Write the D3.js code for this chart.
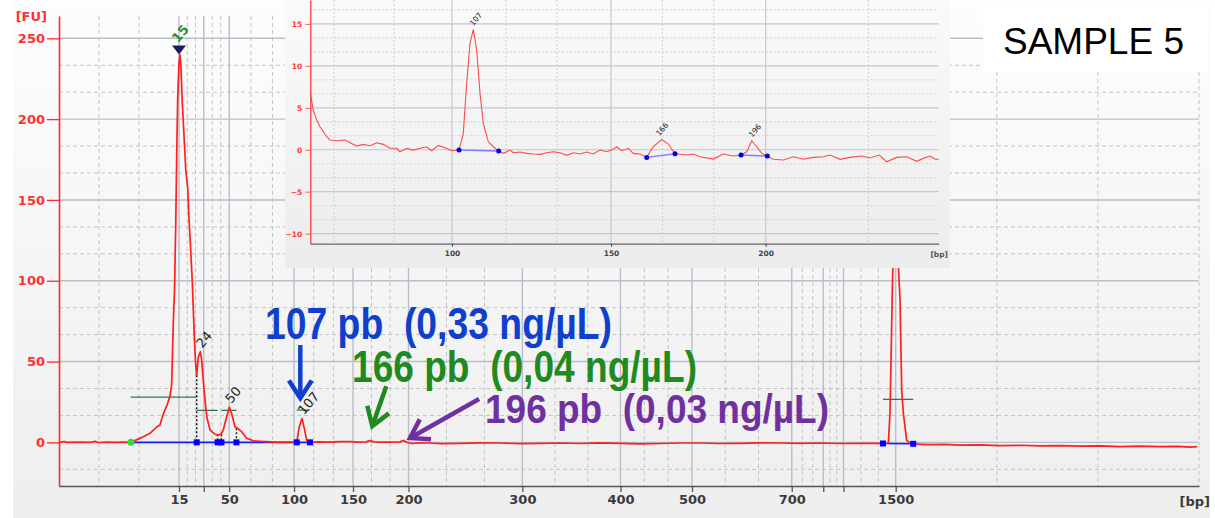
<!DOCTYPE html>
<html>
<head>
<meta charset="utf-8">
<script src="https://cdn.jsdelivr.net/npm/d3@7"></script>
<style>
  body { margin: 0; background: #fff; }
  svg { display: block; }
</style>
</head>
<body>
<div id="chart"></div>
<script>
// ---------------------------------------------------------------- data
// ladder peaks (size in bp) and their migration time (s)
var ladderSizes  = [15, 25, 50, 100, 150, 200, 300, 400, 500, 700, 850, 1000, 1500];
var ladderTimes  = [48.0, 49.65, 51.35, 55.67, 59.6, 63.3, 70.89, 77.43, 82.2, 88.85, 90.95, 92.3, 95.78];
var labeledSizes = [15, 50, 100, 150, 200, 300, 400, 500, 700, 1500];
var fuTicks      = [0, 50, 100, 150, 200, 250];

// main electropherogram [time s, FU]
var mainTrace = [
  [40.00, 0], [40.33, 0.5], [40.53, 0], [41.40, 0.2], [42.10, 0], [42.40, 0.6], [42.60, -0.1], [43.20, 0.1],
  [43.73, 0], [44.30, 0.2], [44.80, 0],
  [45.20, 1.7], [45.62, 3.5], [46.07, 5.6], [46.51, 9.5], [46.73, 10.7], [46.95, 17.5], [47.20, 23], [47.40, 28.6],
  [47.51, 35.5], [47.62, 73.8], [47.70, 94], [47.78, 132.6], [47.85, 179], [47.91, 211.8], [48.00, 235.3], [48.07, 239.7],
  [48.13, 232.4], [48.22, 210], [48.35, 187], [48.45, 168.5], [48.58, 157.4], [48.67, 137.6], [48.78, 119], [48.89, 98.6],
  [49.02, 65.2], [49.10, 49.7], [49.18, 41.6],
  [49.29, 52.8], [49.42, 56.1], [49.51, 51], [49.67, 32.4], [49.85, 15.8], [50.07, 7.6], [50.40, 5], [50.60, 4.5],
  [50.80, 5.1], [50.95, 7.6], [51.18, 15.8], [51.35, 21.8], [51.51, 17.9], [51.73, 9.7], [51.91, 8.7], [52.18, 6.6],
  [52.51, 2.5], [52.95, 1.0], [53.40, 0.7], [53.85, 0.4], [54.40, 0.1], [54.93, 0], [55.40, 0.2], [55.85, 0],
  [56.02, 9.7], [56.20, 14.7], [56.33, 9.7], [56.51, 1.4], [56.73, 0],
  [57.30, 0.3], [58.07, 0.2], [58.70, 0.4], [59.40, 0.5], [60.00, 0.2], [60.47, 0.3], [60.73, 1.1], [61.00, 0.3],
  [61.50, 0.1], [62.07, 0.2], [62.73, 0.3], [62.97, 1.2], [63.20, 0], [63.53, -0.7], [64.10, -0.3], [64.73, -0.4],
  [65.50, -0.8], [66.73, -0.6], [68.00, -0.3], [69.40, -0.4], [70.70, -0.8], [72.07, -0.6], [73.40, -0.4], [74.73, -0.7],
  [76.00, -0.3], [77.40, -0.6], [78.70, -0.9], [80.07, -0.7], [81.40, -0.4], [82.73, -0.4], [84.00, -0.7], [85.40, -0.6],
  [86.70, -0.3], [88.07, -0.4], [89.40, -0.6], [90.73, -0.4], [92.10, -0.7], [93.40, -0.6], [94.93, -0.6], [95.29, -0.4],
  [95.40, 18.1], [95.47, 51], [95.55, 92.4], [95.63, 125], [95.78, 150], [95.90, 125], [95.97, 106.6], [96.07, 88],
  [96.18, 32.4], [96.29, 18.1], [96.51, 1.4], [96.73, -0.6], [96.95, -0.9],
  [97.50, -1.2], [98.07, -1.4], [99.00, -1.3], [100.07, -1.7], [101.40, -1.6], [102.73, -2.0], [104.00, -1.8],
  [105.40, -2.2], [106.70, -2.0], [108.07, -2.3], [109.40, -2.2], [110.73, -2.6], [112.00, -2.3], [113.40, -2.6],
  [114.60, -2.5], [115.40, -2.9], [115.87, -2.6]
];

// peak calls in main plot
var peakSizes  = [15, 24, 50, 107];
var peakFU     = [240, 56.1, 21.8, 14.7];
var peakTimes  = [48.0, 49.42, 51.35, 56.2];
var markerTime = 44.8;                       // start of integration (green dot)
var boundaries = [[49.18, 0], [50.57, 0], [50.83, 0], [51.83, 0], [55.85, 0], [56.73, 0], [94.93, -0.7], [96.95, -0.9]];
var baselines  = [[44.8, 0, 56.73, 0], [94.93, -0.7, 96.95, -0.9]];
var widthBars  = [[44.78, 49.18, 28], [49.18, 50.57, 19.8], [50.83, 51.83, 19.8], [55.85, 56.73, 20], [94.93, 96.95, 26.6]];
var dropLines  = [[49.18, 41.6], [50.57, 5], [50.83, 5], [51.83, 8.7]];

// zoomed inset [bp, FU]
var insetTrace = [
  [55.44, 6.72], [56.38, 4.73], [57.45, 3.54], [58.49, 2.74], [60.6, 1.55], [61.64, 1.16], [63.74, 1.07], [66.35, 1.16],
  [67.92, 0.83], [70.03, 0.44], [72.11, 0.64], [74.21, 0.48], [76.32, 0.83], [78.4, 0.64], [80.5, 0.17], [82.61, 0.17],
  [83.65, -0.24], [85.75, 0.17], [87.83, -0.04], [89.94, 0.17], [92.04, 0.36], [93.62, -0.12], [95.69, 0.52], [97.8, 0.24],
  [99.91, -0.12], [102.2, -0.04],
  [103.55, 1.96], [104.62, 7.92], [105.66, 12.69], [106.7, 14.36], [107.77, 11.89], [108.81, 6.72], [109.84, 3.15],
  [111.42, 0.95], [112.99, 0.36], [114.69, -0.16],
  [116.13, -0.43], [118.24, -0.04], [119.28, -0.36], [121.38, -0.27], [123.49, -0.43], [125.57, -0.51], [127.67, -0.55],
  [129.78, -0.36], [131.86, -0.24], [133.96, -0.36], [136.07, -0.67], [138.14, -0.36], [140.25, -0.51], [142.36, -0.27],
  [144.43, -0.51], [146.54, -0.04], [148.65, -0.24], [150.74, 0.05], [151.84, 0.36], [153.46, -0.12], [155.59, 0.17],
  [157.21, -0.43], [159.37, -0.51], [161.54, -0.91],
  [163.67, 0.36], [166.39, 1.24], [168.52, 0.68], [170.69, -0.48],
  [174.47, -0.63], [176.6, -0.51], [178.77, -0.83], [183.07, -1.11], [186.3, -0.51], [189.53, -0.75], [192.02, -0.63],
  [193.86, -0.24], [195.48, 1.07], [197.09, 0.36], [198.71, -0.43], [200.52, -0.75],
  [202.46, -1.14], [205.69, -1.23], [208.93, -0.83], [212.16, -1.14], [215.39, -0.91], [218.62, -0.83], [220.78, -0.63],
  [224.02, -1.14], [227.25, -0.91], [231.03, -0.75], [233.71, -0.99], [236.72, -0.63], [239.11, -1.43], [242.35, -0.91],
  [245.58, -0.83], [248.81, -1.38], [250.95, -1.03], [253.11, -0.75], [254.73, -1.14], [255.92, -1.14]
];
var insetTicks     = [100, 150, 200];
var insetMinor     = [62.9, 81.8, 117, 133, 166.6, 183.2, 233.2];
var insetFuTicks   = [-10, -5, 0, 5, 10, 15];
var insetPeakSizes = [107, 166, 196];
var insetPeakFU    = [14.36, 1.24, 1.07];
var insetBase      = [[102.2, -0.04, 114.69, -0.16], [161.54, -0.91, 170.69, -0.48], [192.02, -0.63, 200.52, -0.75]];

// annotations
var noteTexts  = ["107 pb  (0,33 ng/\u00b5L)", "166 pb  (0,04 ng/\u00b5L)", "196 pb  (0,03 ng/\u00b5L)"];
var noteSizes  = [107, 166, 196];
var noteColors = ["#0f3fcc", "#1f8a1f", "#7030a0"];

// ---------------------------------------------------------------- setup
var W = 1215, H = 518;

var svg = d3.select("#chart").append("svg")
    .attr("width", W)
    .attr("height", H);

var defs = svg.append("defs");

function gradient(id, top, bottom) {
    var gr = defs.append("linearGradient").attr("id", id)
        .attr("x1", 0).attr("y1", 0).attr("x2", 0).attr("y2", 1);
    gr.append("stop").attr("offset", "0%").attr("stop-color", top);
    gr.append("stop").attr("offset", "100%").attr("stop-color", bottom);
}
gradient("bgGrad", "#fdfdfd", "#eeeeee");
gradient("insetGrad", "#fafafa", "#ececec");

// scales
var x = d3.scaleLinear().domain([40, 116]).range([59, 1199]);
var y = d3.scaleLinear().domain([-27, 263.8]).range([486, 16]);
var sizeToTime = d3.scaleLinear().domain(ladderSizes).range(ladderTimes);

var ix = d3.scaleLinear().domain([55.44, 100, 150, 200, 255.92]).range([310.3, 452, 611, 765.7, 938.7]);
var iy = d3.scaleLinear().domain([-11.2, 17.85]).range([243.7, 0]);

svg.append("rect").attr("width", W).attr("height", H).attr("fill", "#fff");
svg.append("rect").attr("x", 13).attr("y", 0).attr("width", 1197).attr("height", H).attr("fill", "url(#bgGrad)");

// ---------------------------------------------------------------- main grid
var grid = svg.append("g");
var yTop = y.domain()[1], yBot = y.domain()[0];

// dashed vertical lines split every ladder interval in thirds
var bounds = [x.domain()[0]].concat(ladderTimes, [x.domain()[1]]);
var minorT = [];
for (var i = 0; i < bounds.length - 1; i++) {
    var a = bounds[i], b = bounds[i + 1];
    minorT.push(a + (b - a) / 3, a + 2 * (b - a) / 3);
}
minorT.push(x.domain()[1]);

var minorFU = d3.range(-1, 16).map(k => k * 50 / 3).filter(v => Math.abs(v % 50) > 1e-6 && v > yBot && v < yTop);

grid.selectAll(".vm").data(minorT).enter().append("line")
    .attr("x1", d => x(d)).attr("x2", d => x(d))
    .attr("y1", y(yTop)).attr("y2", y(yBot))
    .attr("stroke", "#c4c4c4").attr("stroke-dasharray", "4,3");

grid.selectAll(".hm").data(minorFU).enter().append("line")
    .attr("x1", x.range()[0]).attr("x2", x.range()[1])
    .attr("y1", d => y(d)).attr("y2", d => y(d))
    .attr("stroke", "#c4c4c4").attr("stroke-dasharray", "4,3");

grid.selectAll(".vM").data(ladderTimes).enter().append("line")
    .attr("x1", d => x(d)).attr("x2", d => x(d))
    .attr("y1", y(yTop)).attr("y2", y(yBot))
    .attr("stroke", "#b7bfcd").attr("stroke-width", 1.4);

grid.selectAll(".hM").data(fuTicks).enter().append("line")
    .attr("x1", x.range()[0]).attr("x2", x.range()[1])
    .attr("y1", d => y(d)).attr("y2", d => y(d))
    .attr("stroke", "#b7bfcd").attr("stroke-width", 1.4);

// ---------------------------------------------------------------- peak furniture
var furn = svg.append("g");

furn.selectAll(".wb").data(widthBars).enter().append("line")
    .attr("x1", d => x(d[0])).attr("x2", d => x(d[1]))
    .attr("y1", d => y(d[2])).attr("y2", d => y(d[2]))
    .attr("stroke", "#2b7a50").attr("stroke-width", 1.3);

furn.selectAll(".bl").data(baselines).enter().append("line")
    .attr("x1", d => x(d[0])).attr("y1", d => y(d[1]))
    .attr("x2", d => x(d[2])).attr("y2", d => y(d[3]))
    .attr("stroke", "#1a1aff").attr("stroke-width", 1.6);

furn.selectAll(".dl").data(dropLines).enter().append("line")
    .attr("x1", d => x(d[0])).attr("x2", d => x(d[0]))
    .attr("y1", d => y(d[1])).attr("y2", y(0))
    .attr("stroke", "#222").attr("stroke-width", 1.5).attr("stroke-dasharray", "2,2");

// trace
var line = d3.line().x(d => x(d[0])).y(d => y(d[1]));
svg.append("path")
    .datum(mainTrace)
    .attr("d", line)
    .attr("fill", "none")
    .attr("stroke", "#ff1f1f")
    .attr("stroke-width", 1.7)
    .attr("stroke-linejoin", "round");

svg.selectAll(".bd").data(boundaries).enter().append("rect")
    .attr("x", d => x(d[0]) - 3).attr("y", d => y(d[1]) - 3)
    .attr("width", 6).attr("height", 6)
    .attr("fill", "#0000ff");

svg.append("circle")
    .attr("cx", x(markerTime)).attr("cy", y(0)).attr("r", 3.5)
    .attr("fill", "#33dd33");

// lower marker triangle
var mx = x(peakTimes[0]), my = y(peakFU[0]);
svg.append("path")
    .attr("d", "M" + (mx - 7) + "," + (my - 9) + "L" + (mx + 7) + "," + (my - 9) + "L" + mx + "," + my + "Z")
    .attr("fill", "#1c1c5e");

// peak labels
svg.selectAll(".pl").data(peakSizes).enter().append("text")
    .attr("transform", (d, i) => i === 0
        ? "translate(" + (mx - 1) + "," + (my - 11) + ") rotate(-50)"
        : "translate(" + (x(peakTimes[i]) + 2) + "," + (y(peakFU[i]) - 3) + ") rotate(-50)")
    .text(d => d)
    .style("font-family", "DejaVu Sans")
    .style("font-size", "13px")
    .style("font-weight", (d, i) => i === 0 ? "bold" : "normal")
    .attr("fill", (d, i) => i === 0 ? "#2f8f2f" : "#222");

// ---------------------------------------------------------------- main axes
var yAxis = svg.append("g")
    .attr("transform", "translate(" + x.range()[0] + ",0)")
    .call(d3.axisLeft(y).tickValues(fuTicks).tickSize(12).tickSizeOuter(0).tickPadding(2));
yAxis.select(".domain").attr("stroke", "#ff2a2a").attr("stroke-width", 1.6);
yAxis.selectAll(".tick line").attr("stroke", "#ff2a2a").attr("stroke-width", 1.3);
yAxis.selectAll(".tick text")
    .attr("fill", "#ff3030")
    .style("font-family", "DejaVu Sans").style("font-size", "13px").style("font-weight", "bold");

var xAxis = svg.append("g")
    .attr("transform", "translate(0," + y(yBot) + ")")
    .call(d3.axisBottom(x).tickValues(ladderTimes).tickSize(6).tickSizeOuter(0).tickPadding(3)
        .tickFormat((d, i) => labeledSizes.indexOf(ladderSizes[i]) >= 0 ? ladderSizes[i] : ""));
xAxis.select(".domain").attr("stroke", "#555").attr("stroke-width", 1.5);
xAxis.selectAll(".tick line").attr("stroke", "#555").attr("stroke-width", 1.3);
xAxis.selectAll(".tick text")
    .attr("fill", "#3a3a3a")
    .style("font-family", "DejaVu Sans").style("font-size", "13px").style("font-weight", "bold");

svg.append("text")
    .attr("x", 47).attr("y", 21)
    .attr("text-anchor", "end")
    .text("[FU]")
    .attr("fill", "#ff3030")
    .style("font-family", "DejaVu Sans").style("font-size", "13px").style("font-weight", "bold");

svg.append("text")
    .attr("x", 1210).attr("y", 506)
    .attr("text-anchor", "end")
    .text("[bp]")
    .attr("fill", "#3a3a3a")
    .style("font-family", "DejaVu Sans").style("font-size", "13px").style("font-weight", "bold");

// ---------------------------------------------------------------- inset
var inset = svg.append("g");
inset.append("rect")
    .attr("x", 285).attr("y", 0).attr("width", 665).attr("height", 268)
    .attr("fill", "url(#insetGrad)");

var ixL = ix.range()[0], ixR = ix.range()[ix.range().length - 1];
var iyTop = iy.domain()[1], iyBot = iy.domain()[0];
var insetMinorFU = d3.range(-6, 11).map(k => k * 5 / 3).filter(v => Math.abs(v % 5) > 1e-6 && v > iyBot && v < iyTop);

inset.selectAll(".ivm").data(insetMinor).enter().append("line")
    .attr("x1", d => ix(d)).attr("x2", d => ix(d))
    .attr("y1", iy(iyTop)).attr("y2", iy(iyBot))
    .attr("stroke", "#cfcfcf").attr("stroke-dasharray", "2,2");
inset.selectAll(".ihm").data(insetMinorFU).enter().append("line")
    .attr("x1", ixL).attr("x2", ixR)
    .attr("y1", d => iy(d)).attr("y2", d => iy(d))
    .attr("stroke", "#cfcfcf").attr("stroke-dasharray", "2,2");
inset.selectAll(".ivM").data(insetTicks).enter().append("line")
    .attr("x1", d => ix(d)).attr("x2", d => ix(d))
    .attr("y1", iy(iyTop)).attr("y2", iy(iyBot))
    .attr("stroke", "#c2c8d3").attr("stroke-width", 1.2);
inset.selectAll(".ihM").data(insetFuTicks).enter().append("line")
    .attr("x1", ixL).attr("x2", ixR)
    .attr("y1", d => iy(d)).attr("y2", d => iy(d))
    .attr("stroke", "#c2c8d3").attr("stroke-width", 1.2);

var iline = d3.line().x(d => ix(d[0])).y(d => iy(d[1]));
inset.append("path")
    .datum(insetTrace)
    .attr("d", iline)
    .attr("fill", "none")
    .attr("stroke", "#ff4a4a")
    .attr("stroke-width", 1.1);

inset.selectAll(".ib").data(insetBase).enter().append("line")
    .attr("x1", d => ix(d[0])).attr("y1", d => iy(d[1]))
    .attr("x2", d => ix(d[2])).attr("y2", d => iy(d[3]))
    .attr("stroke", "#8080ff").attr("stroke-width", 1.5);

var insetDots = [];
insetBase.forEach(d => { insetDots.push([d[0], d[1]], [d[2], d[3]]); });
inset.selectAll(".idot").data(insetDots).enter().append("circle")
    .attr("cx", d => ix(d[0])).attr("cy", d => iy(d[1])).attr("r", 2.5)
    .attr("fill", "#0000ee");

inset.selectAll(".ipl").data(insetPeakSizes).enter().append("text")
    .attr("transform", (d, i) => "translate(" + (ix(d) - 1) + "," + (iy(insetPeakFU[i]) - 3) + ") rotate(-50)")
    .text(d => d)
    .attr("fill", "#222")
    .style("font-family", "DejaVu Sans").style("font-size", "7.5px");

var iyAxis = inset.append("g")
    .attr("transform", "translate(" + ixL + ",0)")
    .call(d3.axisLeft(iy).tickValues(insetFuTicks).tickSize(5).tickSizeOuter(0).tickPadding(3));
iyAxis.select(".domain").attr("stroke", "#ff3a3a").attr("stroke-width", 1.3);
iyAxis.selectAll(".tick line").attr("stroke", "#ff5a5a");
iyAxis.selectAll(".tick text")
    .attr("fill", "#ff3a3a")
    .style("font-family", "DejaVu Sans").style("font-size", "7.5px").style("font-weight", "bold");

var ixAxis = inset.append("g")
    .attr("transform", "translate(0," + iy(iyBot) + ")")
    .call(d3.axisBottom(ix).tickValues(insetTicks).tickSize(3).tickSizeOuter(0).tickPadding(4));
ixAxis.select(".domain").attr("stroke", "#666").attr("stroke-width", 1.3);
ixAxis.selectAll(".tick line").attr("stroke", "#444");
ixAxis.selectAll(".tick text")
    .attr("fill", "#444")
    .style("font-family", "DejaVu Sans").style("font-size", "7.5px").style("font-weight", "bold");

inset.append("text")
    .attr("x", 948).attr("y", 257)
    .attr("text-anchor", "end")
    .text("[bp]")
    .attr("fill", "#555")
    .style("font-family", "DejaVu Sans").style("font-size", "7.5px").style("font-weight", "bold");

// ---------------------------------------------------------------- annotations
var notePos   = [[265, 339], [352, 382], [485, 423]];
var noteWidth = [347, 345, 344];
var noteFont  = [44, 44, 41];
svg.selectAll(".note").data(noteTexts).enter().append("text")
    .attr("x", (d, i) => notePos[i][0])
    .attr("y", (d, i) => notePos[i][1])
    .attr("textLength", (d, i) => noteWidth[i])
    .attr("lengthAdjust", "spacingAndGlyphs")
    .text(d => d)
    .attr("fill", (d, i) => noteColors[i])
    .style("white-space", "pre")
    .style("font-family", "Liberation Sans, Arial, sans-serif")
    .style("font-size", (d, i) => noteFont[i] + "px")
    .style("font-weight", "bold");

// arrows: tip placed relative to each peak, tail offset [dx, dy]
var arrowTip  = [[-2, 27.4], [1.5, 10], [6, 2.7]];
var arrowTail = [[0, -53], [14, -40], [69, -39]];

function drawArrow(tx, ty, vx, vy, color) {
    var len = Math.sqrt(vx * vx + vy * vy), ux = vx / len, uy = vy / len;
    var hl = 21, ang = 33 * Math.PI / 180;
    var h1 = [tx + hl * (ux * Math.cos(ang) - uy * Math.sin(ang)), ty + hl * (ux * Math.sin(ang) + uy * Math.cos(ang))];
    var h2 = [tx + hl * (ux * Math.cos(-ang) - uy * Math.sin(-ang)), ty + hl * (ux * Math.sin(-ang) + uy * Math.cos(-ang))];
    svg.append("path")
        .attr("d", "M" + (tx + vx) + "," + (ty + vy) + "L" + (tx + ux * 2) + "," + (ty + uy * 2))
        .attr("stroke", color).attr("stroke-width", 4.5).attr("fill", "none");
    svg.append("path")
        .attr("d", "M" + h1[0] + "," + h1[1] + "L" + tx + "," + ty + "L" + h2[0] + "," + h2[1])
        .attr("stroke", color).attr("stroke-width", 4.5).attr("fill", "none")
        .attr("stroke-linejoin", "miter").attr("stroke-linecap", "butt");
}

noteSizes.forEach(function(s, i) {
    var tx = x(sizeToTime(s)) + arrowTip[i][0];
    var ty = y(arrowTip[i][1]);
    drawArrow(tx, ty, arrowTail[i][0], arrowTail[i][1], noteColors[i]);
});

// sample tag
svg.append("rect")
    .attr("x", 983).attr("y", 8).attr("width", 225).attr("height", 64)
    .attr("fill", "#fff");
svg.append("text")
    .attr("x", 1003).attr("y", 54)
    .text("SAMPLE 5")
    .attr("fill", "#000")
    .style("font-family", "Liberation Sans, Arial, sans-serif")
    .style("font-size", "37px");
</script>
</body>
</html>
